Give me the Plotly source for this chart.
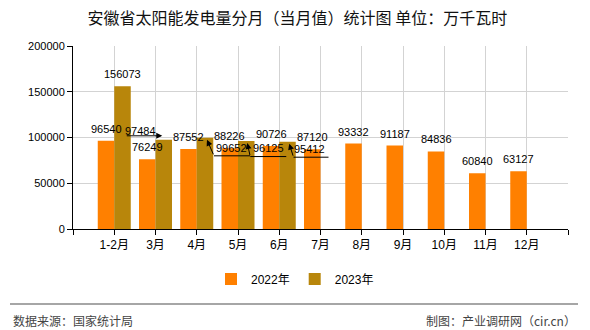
import plotly.graph_objects as go

# ---------------- data ----------------
categories = ["1-2月", "3月", "4月", "5月", "6月", "7月", "8月", "9月", "10月", "11月", "12月"]
values_2022 = [96540, 76249, 87552, 88226, 90726, 87120, 93332, 91187, 84836, 60840, 63127]
values_2023 = [156073, 97484, 99652, 96125, 95412, None, None, None, None, None, None]
series_names = ["2022年", "2023年"]
y_ticks = [0, 50000, 100000, 150000, 200000]

# ---------------- style / layout constants ----------------
W, H = 590, 330
L, R, T, B = 73, 568, 46, 229
C2022 = "#FF8000"
C2023 = "#B8860B"
GRID = "#d3d3d3"
FONT = "Liberation Sans, Noto Sans CJK SC, sans-serif"
CJK = "Noto Sans CJK SC, sans-serif"


def px_x(px):
    return (px - L) / (R - L)


def px_y(py):
    return (B - py) / (B - T)


xs = list(range(len(categories)))

fig = go.Figure()
fig.add_trace(go.Bar(x=xs, y=values_2022, name=series_names[0], marker_color=C2022,
                     marker_line_width=0, offsetgroup="a"))
fig.add_trace(go.Bar(x=xs, y=values_2023, name=series_names[1], marker_color=C2023,
                     marker_line_width=0, offsetgroup="b"))

annotations = []
shapes = []
OFF = 0.2  # half bar width in category units
label_font = dict(family=FONT, size=11, color="#000")

# 2022 labels above bars
for i, v in enumerate(values_2022):
    annotations.append(dict(x=i - OFF, y=v, xref="x", yref="y", text=str(v), showarrow=False,
                            yanchor="bottom", xanchor="center", yshift=4, font=label_font))

# 2023 labels: displaced ones use leader lines (pixel offsets relative to bar top centre)
# dy positive = down
displaced = {
    1: dict(t=(-23.5, -9), tip=(-1.5, -4), elbow=(-38.5, -4), end=None),
    2: dict(t=(26, 10), tip=(2, 2), elbow=(9, 18), end=45),
    3: dict(t=(22, 7), tip=(1, 2), elbow=(4, 15.5), end=40),
    4: dict(t=(22, 7.5), tip=(1.75, 2), elbow=(6, 15.5), end=41),
}
for i, v in enumerate(values_2023):
    if v is None:
        continue
    if i not in displaced:
        annotations.append(dict(x=i + OFF, y=v, xref="x", yref="y", text=str(v), showarrow=False,
                                yanchor="bottom", xanchor="center", yshift=4, font=label_font))
        continue
    d = displaced[i]
    tdx, tdy = d["t"]
    annotations.append(dict(x=i + OFF, y=v, xref="x", yref="y", text=str(v), showarrow=False,
                            yanchor="middle", xanchor="center", xshift=tdx, yshift=-tdy,
                            font=label_font))
    tx, ty = d["tip"]
    ex, ey = d["elbow"]
    annotations.append(dict(x=i + OFF, y=v, xref="x", yref="y", text="", showarrow=True,
                            xshift=tx, yshift=-ty, ax=ex - tx, ay=ey - ty,
                            arrowhead=2, arrowsize=1.2, arrowwidth=1, arrowcolor="#000"))
    if d["end"] is not None:
        shapes.append(dict(type="line", xref="x", yref="y",
                           xsizemode="pixel", ysizemode="pixel",
                           xanchor=i + OFF, yanchor=v,
                           x0=ex, x1=d["end"], y0=-ey, y1=-ey,
                           line=dict(color="#000", width=1)))

# footer
shapes.append(dict(type="line", xref="paper", yref="paper", x0=px_x(10), x1=px_x(578),
                   y0=px_y(304), y1=px_y(304), line=dict(color="#888", width=1.5)))
annotations.append(dict(xref="paper", yref="paper", x=px_x(11), y=px_y(320), text="数据来源：国家统计局",
                        showarrow=False, xanchor="left", yanchor="middle",
                        font=dict(family=CJK, size=12, color="#444")))
annotations.append(dict(xref="paper", yref="paper", x=px_x(578), y=px_y(320), text="制图：产业调研网（cir.cn）",
                        showarrow=False, xanchor="right", yanchor="middle",
                        font=dict(family=CJK, size=12, color="#444")))

fig.update_layout(
    width=W, height=H,
    margin=dict(l=L, r=W - R, t=T, b=H - B, pad=0),
    paper_bgcolor="white", plot_bgcolor="white",
    barmode="group", bargap=0.2, bargroupgap=0,
    title=dict(text="安徽省太阳能发电量分月（当月值）统计图 单位：万千瓦时",
               x=0.504, xref="container", xanchor="center",
               y=1 - 18 / H, yref="container", yanchor="middle",
               font=dict(family=CJK, size=16, color="#111")),
    showlegend=True,
    legend=dict(orientation="h", xref="container", yref="container",
                x=0.5, xanchor="center", y=1 - 279 / H, yanchor="middle",
                font=dict(family=FONT, size=12, color="#000"),
                itemclick=False, itemdoubleclick=False),
    annotations=annotations,
    shapes=shapes,
)

fig.update_xaxes(
    range=[-1, 11], tickmode="array", tickvals=list(range(-1, 12)),
    ticktext=[""] + categories + [""],
    showgrid=True, gridcolor=GRID, gridwidth=1,
    showline=True, linecolor="#000", linewidth=1,
    ticks="outside", ticklen=5, tickcolor="#000",
    zeroline=False, tickfont=dict(family=FONT, size=12, color="#000"),
)
fig.update_yaxes(
    range=[0, 200000], tickmode="array", tickvals=y_ticks,
    ticktext=[str(t) for t in y_ticks],
    showgrid=True, gridcolor=GRID, gridwidth=1,
    showline=True, linecolor="#000", linewidth=1,
    ticks="outside", ticklen=5, tickcolor="#000",
    zeroline=False, tickfont=dict(family=FONT, size=11, color="#000"),
)

fig.write_html("out.html")
